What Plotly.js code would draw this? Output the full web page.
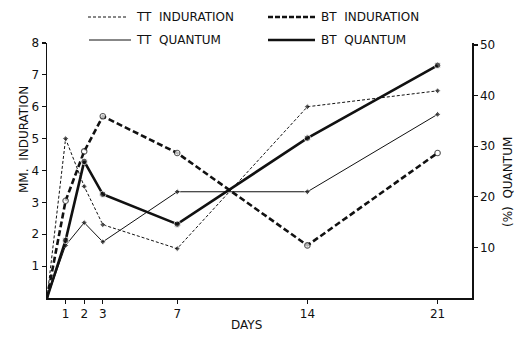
<!DOCTYPE html>
<html>
<head>
<meta charset="utf-8">
<script src="https://cdn.plot.ly/plotly-3.0.1.min.js"></script>
<style>html,body{margin:0;padding:0;background:#fff;}#chart{width:520px;height:337px;}</style>
</head>
<body>
<div id="chart"></div>
<script>
// Data
var days = [0, 1, 2, 3, 7, 14, 21];
var ttInduration = [0, 5.0, 3.5, 2.3, 1.55, 6.0, 6.5];      // mm
var btInduration = [0, 3.05, 4.6, 5.7, 4.55, 1.65, 4.55];   // mm
var ttQuantum = [0, 10.4, 14.9, 11.1, 21, 21, 36.3];        // %
var btQuantum = [0, 11.4, 27.0, 20.5, 14.6, 31.6, 46.0];    // %
var dayTicks = [1, 2, 3, 7, 14, 21];
var mmTicks = [1, 2, 3, 4, 5, 6, 7, 8];
var pctTicks = [10, 20, 30, 40, 50];
var seriesNames = ['TT\u00a0\u00a0INDURATION', 'BT\u00a0\u00a0INDURATION', 'TT\u00a0\u00a0QUANTUM', 'BT\u00a0\u00a0QUANTUM'];

var FONT = 'DejaVu Sans';
var noFirst = function (s) { return days.map(function (d, i) { return i === 0 ? 0 : s; }); };

var traces = [
  {x: days, y: ttInduration, yaxis: 'y', mode: 'lines+markers', name: seriesNames[0], showlegend: false,
   line: {color: '#111', width: 1, dash: '3px,2px'},
   marker: {symbol: 'diamond', size: noFirst(4.5), color: '#111'}},
  {x: days, y: btInduration, yaxis: 'y', mode: 'lines+markers', name: seriesNames[1], showlegend: false,
   line: {color: '#111', width: 2.6, dash: '6px,3px'},
   marker: {symbol: 'circle', size: noFirst(5.5), color: '#fff', line: {color: '#111', width: 1.1}}},
  {x: days, y: ttQuantum, yaxis: 'y2', mode: 'lines+markers', name: seriesNames[2], showlegend: false,
   line: {color: '#111', width: 1},
   marker: {symbol: 'diamond', size: noFirst(4.5), color: '#111'}},
  {x: days, y: btQuantum, yaxis: 'y2', mode: 'lines+markers', name: seriesNames[3], showlegend: false,
   line: {color: '#111', width: 2.6},
   marker: {symbol: 'circle', size: noFirst(6.5), color: '#111'}}
];

// plot area: x 47..472, y 43..298 (pixels)
function px(x) { return (x - 47) / 425; }
function py(y) { return (298 - y) / 255; }

var legendItems = [
  {x0: 88, x1: 126, y: 17, tx: 134, w: 1, dash: '3px,2px'},
  {x0: 268, x1: 315, y: 17, tx: 319, w: 2.6, dash: '5px,2px'},
  {x0: 89, x1: 131, y: 40, tx: 134, w: 1, dash: 'solid'},
  {x0: 268, x1: 315, y: 40, tx: 319, w: 2.6, dash: 'solid'}
];
var shapes = [], annotations = [];
legendItems.forEach(function (it, i) {
  shapes.push({type: 'line', xref: 'paper', yref: 'paper', x0: px(it.x0), x1: px(it.x1), y0: py(it.y), y1: py(it.y),
    line: {color: '#111', width: it.w, dash: it.dash}});
  annotations.push({xref: 'paper', yref: 'paper', x: px(it.tx), y: py(it.y), xanchor: 'left', yanchor: 'middle',
    text: seriesNames[i], showarrow: false, font: {family: FONT, size: 12, color: '#111'}});
});
annotations.push({xref: 'paper', yref: 'paper', x: px(24), y: py(140), xanchor: 'center', yanchor: 'middle',
  textangle: -90, showarrow: false,
  text: 'MM.\u00a0 INDURATION', font: {family: FONT, size: 12, color: '#111'}});
annotations.push({xref: 'paper', yref: 'paper', x: px(508), y: py(182), xanchor: 'center', yanchor: 'middle',
  textangle: -90, showarrow: false,
  text: '(%)\u00a0\u00a0QUANTUM', font: {family: FONT, size: 12, color: '#111'}});
annotations.push({xref: 'paper', yref: 'paper', x: px(246), y: py(325), xanchor: 'center', yanchor: 'middle',
  showarrow: false, text: 'DAYS', font: {family: FONT, size: 12, color: '#111'}});

var axisCommon = {showgrid: false, zeroline: false, showline: true, linecolor: '#111', linewidth: 1.5,
  ticks: 'outside', ticklen: 4, tickcolor: '#111', tickwidth: 1.2, tickfont: {family: FONT, size: 12, color: '#111'},
  tickmode: 'array', fixedrange: true};

var layout = {
  width: 520, height: 337,
  margin: {l: 47, r: 48, t: 43, b: 39},
  paper_bgcolor: '#fff', plot_bgcolor: '#fff',
  showlegend: false,
  xaxis: Object.assign({}, axisCommon, {range: [0, 22.85], tickvals: dayTicks, ticktext: dayTicks.map(String)}),
  yaxis: Object.assign({}, axisCommon, {range: [0, 8], tickvals: mmTicks, ticktext: mmTicks.map(String)}),
  yaxis2: Object.assign({}, axisCommon, {range: [0, 50.4], tickvals: pctTicks, ticktext: pctTicks.map(String),
    overlaying: 'y', side: 'right'}),
  shapes: shapes,
  annotations: annotations
};

Plotly.newPlot('chart', traces, layout, {staticPlot: true, displayModeBar: false});
</script>
</body>
</html>
